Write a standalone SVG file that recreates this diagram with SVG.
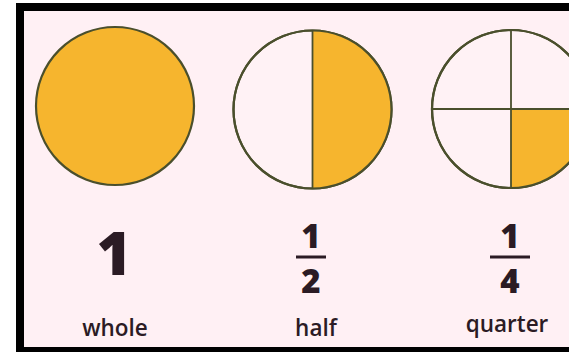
<svg xmlns="http://www.w3.org/2000/svg" width="569" height="352" viewBox="0 0 569 352">
<style>
.ring{fill:#fff2f5;stroke:#4a4f2c;stroke-width:2.2}
.fillc{fill:#f6b52e}
.div{stroke:#4a4f2c;stroke-width:1.8}
.num{font-family:"Open Sans","DejaVu Sans",sans-serif;font-weight:800;fill:#2b1b24;text-anchor:middle}
.lbl{font-family:"Open Sans","DejaVu Sans",sans-serif;font-weight:600;font-size:22.5px;fill:#2b1b24;text-anchor:middle}
.bar{stroke:#2b1b24;stroke-width:3}
</style>
<rect x="0" y="0" width="569" height="352" fill="#ffffff"/>
<rect x="16" y="3" width="553" height="349" fill="#000000"/>
<rect x="24" y="11" width="545" height="336" fill="#fff0f4"/>
<g id="whole">
<circle cx="115" cy="106" r="79" class="fillc" stroke="#4a4f2c" stroke-width="2.2"/>
<text x="114" y="275" class="num" font-size="60">1</text>
<text x="115" y="336" class="lbl">whole</text>
</g>
<g id="half">
<circle cx="312.5" cy="109.5" r="79" class="ring"/>
<path d="M312.5,30.5 A79,79 0 0 1 312.5,188.5 Z" class="fillc"/>
<circle cx="312.5" cy="109.5" r="79" fill="none" stroke="#4a4f2c" stroke-width="2.2"/>
<line x1="312.5" y1="30.5" x2="312.5" y2="188.5" class="div"/>
<text x="311" y="248" class="num" font-size="33">1</text>
<line x1="296" y1="257" x2="326" y2="257" class="bar"/>
<text x="311" y="293" class="num" font-size="33">2</text>
<text x="316" y="336" class="lbl">half</text>
</g>
<g id="quarter">
<circle cx="511" cy="109" r="79" class="ring"/>
<path d="M511,109 L590,109 A79,79 0 0 1 511,188 Z" class="fillc"/>
<circle cx="511" cy="109" r="79" fill="none" stroke="#4a4f2c" stroke-width="2.2"/>
<line x1="511" y1="30" x2="511" y2="188" class="div"/>
<line x1="432" y1="109" x2="590" y2="109" class="div"/>
<text x="510" y="248" class="num" font-size="33">1</text>
<line x1="490" y1="257" x2="530" y2="257" class="bar"/>
<text x="510" y="293" class="num" font-size="33">4</text>
<text x="507" y="332" class="lbl">quarter</text>
</g>
</svg>
